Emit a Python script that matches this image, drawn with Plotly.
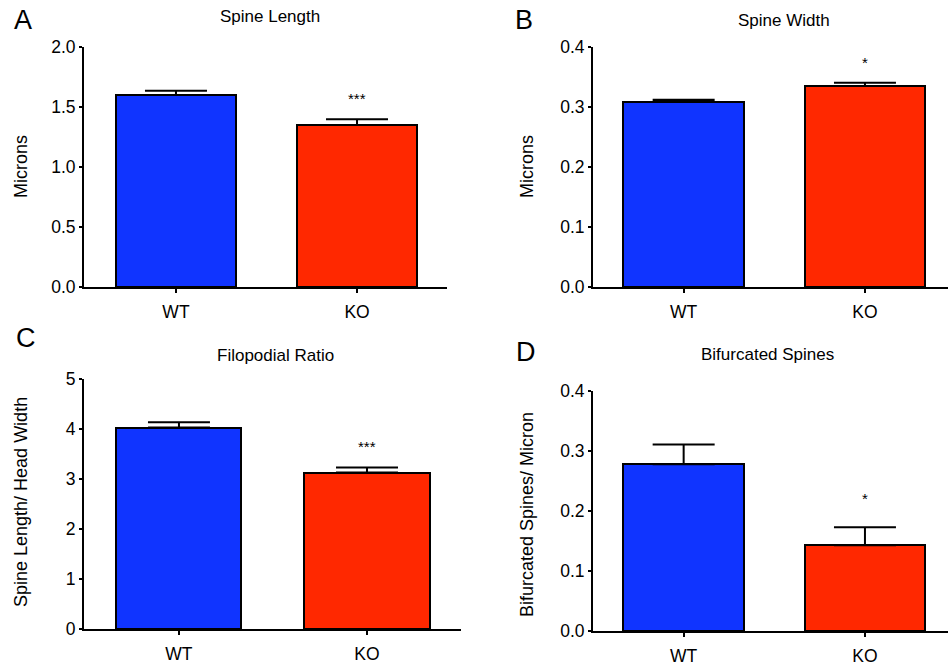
import plotly.graph_objects as go

# ---------------- data ----------------
categories = ["WT", "KO"]

spine_length = [1.60, 1.35]
spine_length_se = [0.036, 0.047]

spine_width = [0.309, 0.335]
spine_width_se = [0.003, 0.0055]

filopodial_ratio = [4.03, 3.13]
filopodial_ratio_se = [0.105, 0.10]

bifurcated = [0.278, 0.143]
bifurcated_se = [0.033, 0.030]

significance = ["***", "*", "***", "*"]

panel_titles = ["Spine Length", "Spine Width", "Filopodial Ratio", "Bifurcated Spines"]
panel_letters = ["A", "B", "C", "D"]
y_titles = ["Microns", "Microns", "Spine Length/ Head Width", "Bifurcated Spines/ Micron"]

# ---------------- style ----------------
W, H = 948, 665
FONT = "Arial, Liberation Sans, sans-serif"
BLUE = "#1034FF"
RED = "#FF2800"


def px(x):
    return x / W


def py(y):
    return 1 - y / H


panels = [
    dict(vals=spine_length, se=spine_length_se, yrange=[0, 2], dtick=0.5, fmt=".1f",
         xdom=[px(84), px(447)], ydom=[py(287), py(47)], xr=[-0.508, 1.497]),
    dict(vals=spine_width, se=spine_width_se, yrange=[0, 0.4], dtick=0.1, fmt=".1f",
         xdom=[px(593), px(948)], ydom=[py(287), py(47)], xr=[-0.5, 1.458]),
    dict(vals=filopodial_ratio, se=filopodial_ratio_se, yrange=[0, 5], dtick=1, fmt="d",
         xdom=[px(84), px(461)], ydom=[py(629), py(379)], xr=[-0.505, 1.5]),
    dict(vals=bifurcated, se=bifurcated_se, yrange=[0, 0.4], dtick=0.1, fmt=".1f",
         xdom=[px(593), px(948)], ydom=[py(631), py(391)], xr=[-0.5, 1.458]),
]

star_shift = [10, 10, 11, 18]

title_pos = [(270, 16), (784, 20), (275, 355), (767, 354)]
letter_pos = [(23, 20), (524, 20), (26, 338), (526, 352)]
ytitle_pos = [(21, 167), (527, 167), (21, 502), (527, 515)]

fig = go.Figure()
annotations = []

for i, p in enumerate(panels):
    n = "" if i == 0 else str(i + 1)
    xa, ya = "x" + n, "y" + n
    fig.add_trace(go.Bar(
        x=[0, 1], y=p["vals"], width=0.665,
        marker=dict(color=[BLUE, RED], line=dict(color="black", width=2)),
        error_y=dict(type="data", symmetric=False, array=p["se"], arrayminus=[0, 0],
                     color="black", thickness=2, width=31),
        xaxis=xa, yaxis=ya, showlegend=False, hoverinfo="skip",
    ))
    fig.layout["xaxis" + n] = dict(
        domain=p["xdom"], range=p["xr"], anchor=ya, automargin=False,
        tickmode="array", tickvals=[0, 1], ticktext=categories,
        showline=True, linecolor="black", linewidth=2,
        ticks="outside", ticklen=4, tickwidth=2, tickcolor="black",
        showgrid=False, zeroline=False, ticklabelstandoff=4,
        tickfont=dict(family=FONT, size=17.5, color="black"), fixedrange=True,
    )
    fig.layout["yaxis" + n] = dict(
        domain=p["ydom"], range=p["yrange"], anchor=xa, automargin=False,
        dtick=p["dtick"], tick0=0, tickformat=p["fmt"],
        showline=True, linecolor="black", linewidth=2,
        ticks="outside", ticklen=3, tickwidth=2, tickcolor="black",
        showgrid=False, zeroline=False,
        tickfont=dict(family=FONT, size=17.5, color="black"), fixedrange=True,
    )
    # significance stars above KO bar
    annotations.append(dict(
        x=1, y=p["vals"][1] + p["se"][1], xref=xa, yref=ya,
        text=significance[i], showarrow=False, yanchor="bottom",
        yshift=star_shift[i], font=dict(family=FONT, size=15, color="black"),
    ))
    tx, ty = title_pos[i]
    annotations.append(dict(x=px(tx), y=py(ty), xref="paper", yref="paper",
                            text=panel_titles[i], showarrow=False,
                            xanchor="center", yanchor="middle",
                            font=dict(family=FONT, size=17, color="black")))
    lx, ly = letter_pos[i]
    annotations.append(dict(x=px(lx), y=py(ly), xref="paper", yref="paper",
                            text=panel_letters[i], showarrow=False,
                            xanchor="center", yanchor="middle",
                            font=dict(family=FONT, size=27, color="black")))
    yx, yy = ytitle_pos[i]
    annotations.append(dict(x=px(yx), y=py(yy), xref="paper", yref="paper",
                            text=y_titles[i], showarrow=False, textangle=-90,
                            xanchor="center", yanchor="middle",
                            font=dict(family=FONT, size=18, color="black")))

fig.update_layout(
    width=W, height=H,
    margin=dict(l=0, r=0, t=0, b=0, autoexpand=False),
    paper_bgcolor="white", plot_bgcolor="white",
    annotations=annotations,
    bargap=0,
)

fig.write_html(
    "out.html",
    config={"displayModeBar": False},
    post_script="document.body.style.margin='0';document.body.style.padding='0';"
                "document.body.style.overflow='hidden';",
)
